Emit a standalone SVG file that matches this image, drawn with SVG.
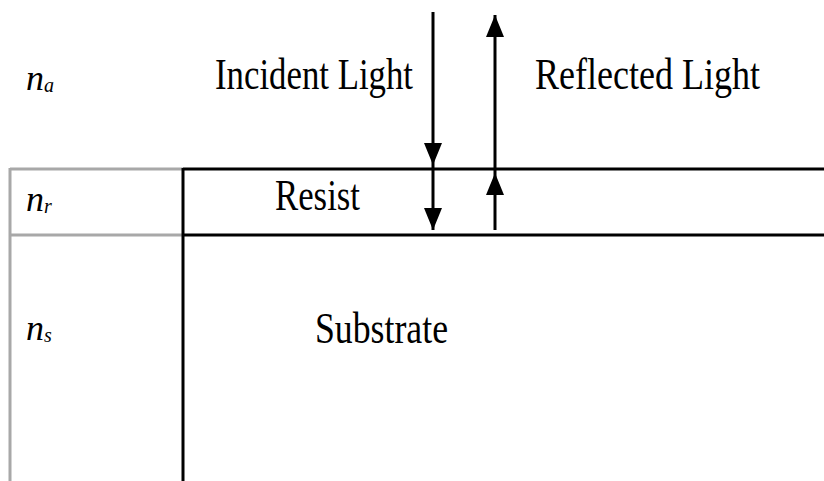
<svg xmlns="http://www.w3.org/2000/svg" width="824" height="481" viewBox="0 0 824 481">
  <style>
    .lbl { font-family: "Liberation Serif", "Times New Roman", serif; fill: #000; }
    .big { font-size: 44px; }
    .idx { font-size: 36px; font-style: italic; }
    .sub { font-size: 20px; }
    .edge { stroke: #000; stroke-width: 3; fill: none; }
    .grey { stroke: #a8a8a8; stroke-width: 3; fill: none; }
    .ray { stroke: #000; stroke-width: 3; fill: none; }
  </style>
  <defs>
    <marker id="head" viewBox="0 0 22 20" refX="22" refY="10" markerWidth="22" markerHeight="20" markerUnits="userSpaceOnUse" orient="auto">
      <path d="M0 1 L22 10 L0 19 Z" fill="#000"/>
    </marker>
  </defs>

  <!-- layer outlines -->
  <g id="layers">
    <line class="grey" x1="10" y1="169" x2="183" y2="169"/>
    <line class="grey" x1="10" y1="235" x2="183" y2="235"/>
    <line class="grey" x1="10" y1="168" x2="10" y2="481"/>
    <line class="edge" x1="183" y1="168" x2="183" y2="481"/>
    <line class="edge" x1="183" y1="169" x2="824" y2="169"/>
    <line class="edge" x1="183" y1="235" x2="824" y2="235"/>
  </g>

  <g id="ambient">
    <text class="lbl idx" x="26" y="90">n<tspan class="sub" dy="2">a</tspan></text>
    <text class="lbl big" x="215" y="89" textLength="198" lengthAdjust="spacingAndGlyphs">Incident Light</text>
    <text class="lbl big" x="535" y="89" textLength="225" lengthAdjust="spacingAndGlyphs">Reflected Light</text>
  </g>

  <g id="resist">
    <text class="lbl idx" x="26" y="211">n<tspan class="sub" dy="2">r</tspan></text>
    <text class="lbl big" x="275" y="210" textLength="85" lengthAdjust="spacingAndGlyphs">Resist</text>
  </g>

  <g id="substrate">
    <text class="lbl idx" x="26" y="340">n<tspan class="sub" dy="2">s</tspan></text>
    <text class="lbl big" x="315" y="343" textLength="133" lengthAdjust="spacingAndGlyphs">Substrate</text>
  </g>

  <!-- light rays -->
  <g id="connectors">
    <line class="ray" x1="433" y1="12" x2="433" y2="165" marker-end="url(#head)"/>
    <line class="ray" x1="433" y1="165" x2="433" y2="230" marker-end="url(#head)"/>
    <line class="ray" x1="495" y1="230" x2="495" y2="173" marker-end="url(#head)"/>
    <line class="ray" x1="495" y1="173" x2="495" y2="15" marker-end="url(#head)"/>
  </g>
</svg>
